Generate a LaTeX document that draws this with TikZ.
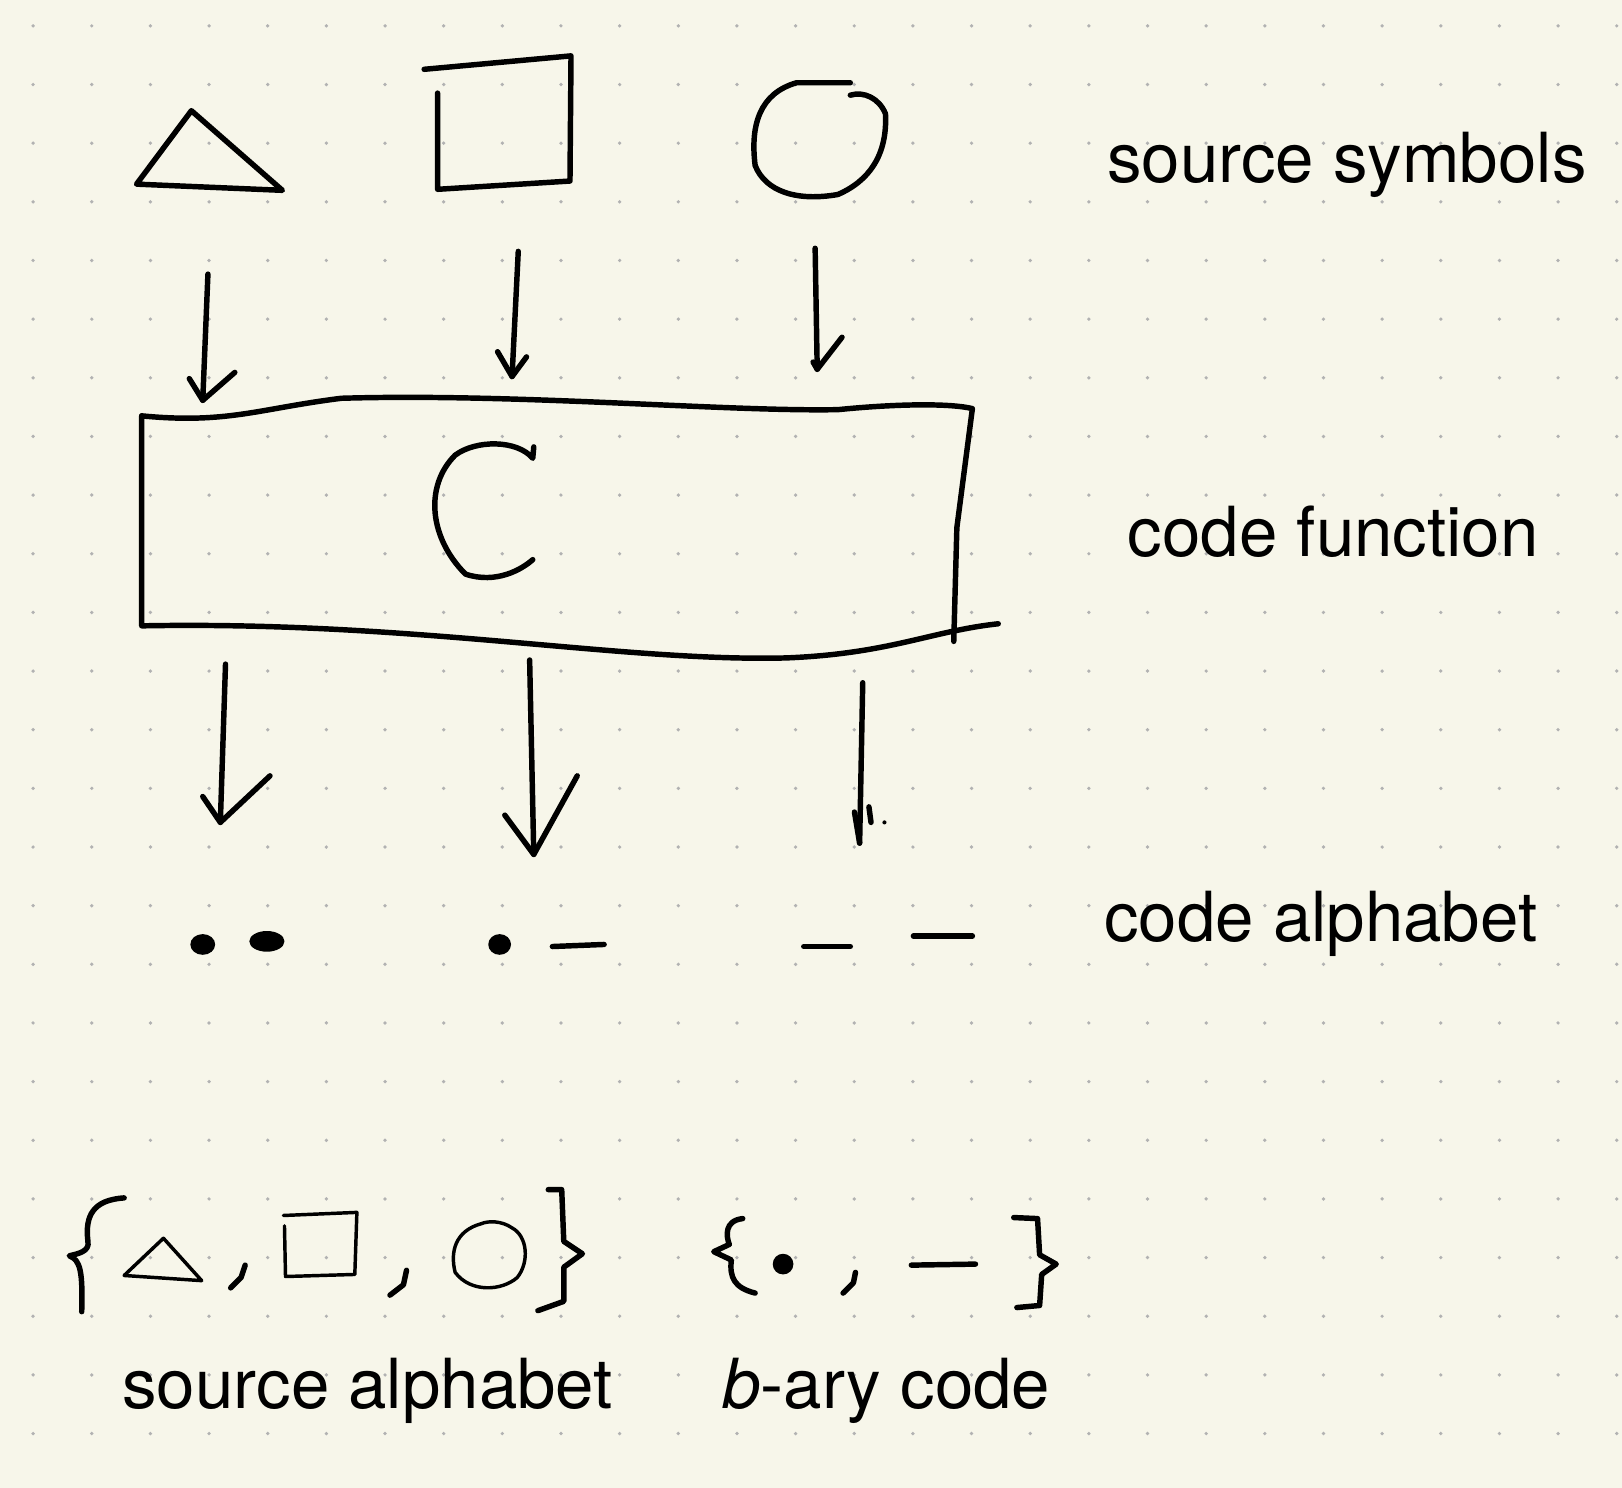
\documentclass[tikz,border=0pt]{standalone}
\usepackage{fontspec}
\setmainfont{TeX Gyre Heros}
\begin{document}
\begin{tikzpicture}[x=0.02cm,y=-0.02cm,
  ink/.style={line width=3pt,line cap=round,line join=round},
  thin ink/.style={line width=1.9pt,line cap=round,line join=round},
  lbl/.style={anchor=base west,inner sep=0pt,font=\fontsize{38}{44}\selectfont}]
\fill[fill={rgb,255:red,247;green,246;blue,234}] (0,0) rectangle (1568,1438);
\useasboundingbox (0,0) rectangle (1568,1438);
\foreach \i in {0,...,27}{\foreach \j in {0,...,25}{
  \fill[black!30] ({32+56.7*\i},{25+56.7*\j}) circle (1.8);}}
% source symbols
\draw[ink] (132,178) -- (185,107) -- (273,184) -- cycle;
\draw[ink] (410,67) -- (552,54) -- (551,175) -- (423,183) -- (423,90);
\draw[ink] (822,80) -- (770,80) .. controls (735,90) and (725,120) .. (730,160)
  .. controls (740,185) and (770,195) .. (810,188) .. controls (840,175) and (858,150) .. (856,110)
  .. controls (850,95) and (835,88) .. (822,92);
% code box
\draw[ink] (137,402) -- (137,605) .. controls (400,600) and (600,640) .. (760,636)
  .. controls (860,632) and (900,610) .. (965,603);
\draw[ink] (137,402) .. controls (220,410) and (250,395) .. (330,385)
  .. controls (500,380) and (700,398) .. (810,396) .. controls (870,390) and (920,390) .. (940,395)
  -- (925,510) -- (922,620);
\draw[ink] (516,432) -- (515,443) .. controls (500,425) and (460,425) .. (440,440)
  .. controls (410,470) and (415,520) .. (450,555) .. controls (480,565) and (505,550) .. (515,541);
% arrows top
\coordinate (a1) at (201,265); \coordinate (b1) at (196,387);
\coordinate (a2) at (501,243); \coordinate (b2) at (495,364);
\coordinate (a3) at (788,240); \coordinate (b3) at (790,357);
\draw[ink] (a1) -- (b1); \draw[ink] (183,366) -- (b1) -- (227,360);
\draw[ink] (a2) -- (b2); \draw[ink] (481,340) -- (b2) -- (509,345);
\draw[ink] (a3) -- (b3); \draw[ink] (786,350) -- (b3) -- (814,326);
% arrows bottom
\coordinate (c1) at (218,642); \coordinate (d1) at (213,795);
\coordinate (c2) at (512,638); \coordinate (d2) at (516,826);
\coordinate (c3) at (834,660); \coordinate (d3) at (831,815);
\draw[ink] (c1) -- (d1); \draw[ink] (196,770) -- (d1) -- (261,750);
\draw[ink] (c2) -- (d2); \draw[ink] (488,788) -- (d2) -- (558,750);
\draw[ink] (c3) -- (d3); \draw[ink] (826,785) -- (d3); \draw[ink] (840,780) -- (842,795);
\fill (855,795) circle (2);
% code alphabet
\fill (196,913) ellipse (12 and 10); \fill (258,910) ellipse (17 and 10);
\fill (483,913) ellipse (11 and 10); \draw[ink] (534,915) -- (584,913);
\draw[ink] (777,915) -- (822,915); \draw[ink] (883,905) -- (940,905);
% source alphabet set
\draw[ink] (120,1158) .. controls (90,1160) and (82,1175) .. (85,1200)
  .. controls (87,1210) and (75,1212) .. (67,1214) .. controls (78,1218) and (80,1230) .. (79,1268);
\draw[thin ink] (120,1233) -- (158,1197) -- (195,1238) -- cycle;
\draw[ink] (223,1245) -- (233,1235) -- (237,1223);
\draw[thin ink] (274,1175) -- (345,1172) -- (343,1232) -- (276,1234) -- (275,1185);
\draw[ink] (377,1252) -- (390,1242) -- (393,1228);
\draw[thin ink] (465,1183) .. controls (440,1190) and (435,1210) .. (440,1230)
  .. controls (455,1250) and (485,1248) .. (500,1235) .. controls (512,1220) and (510,1195) .. (495,1187)
  .. controls (485,1180) and (472,1180) .. (465,1183);
\draw[ink] (530,1150) -- (543,1150) -- (545,1200) -- (563,1212) -- (545,1225) -- (545,1258) -- (520,1267);
\node[lbl] (sa) at (118,1362) {source alphabet};
% b-ary code set
\draw[ink] (718,1178) .. controls (700,1180) and (702,1195) .. (705,1203)
  -- (690,1210) -- (707,1218) .. controls (705,1235) and (710,1245) .. (730,1250);
\fill (757,1222) ellipse (10 and 10);
\draw[ink] (815,1250) -- (825,1240) -- (827,1230);
\draw[ink] (881,1223) -- (943,1222);
\draw[ink] (980,1177) -- (1003,1178) -- (1005,1213) -- (1021,1222) -- (1007,1232) -- (1005,1262) -- (983,1264);
\node[lbl] (bc) at (698,1362) {\textit{b}-ary code};
% labels
\node[lbl] (ss) at (1070,176) {source symbols};
\node[lbl] (cf) at (1090,538) {code function};
\node[lbl] (ca) at (1067,910) {code alphabet};
\end{tikzpicture}
\end{document}
